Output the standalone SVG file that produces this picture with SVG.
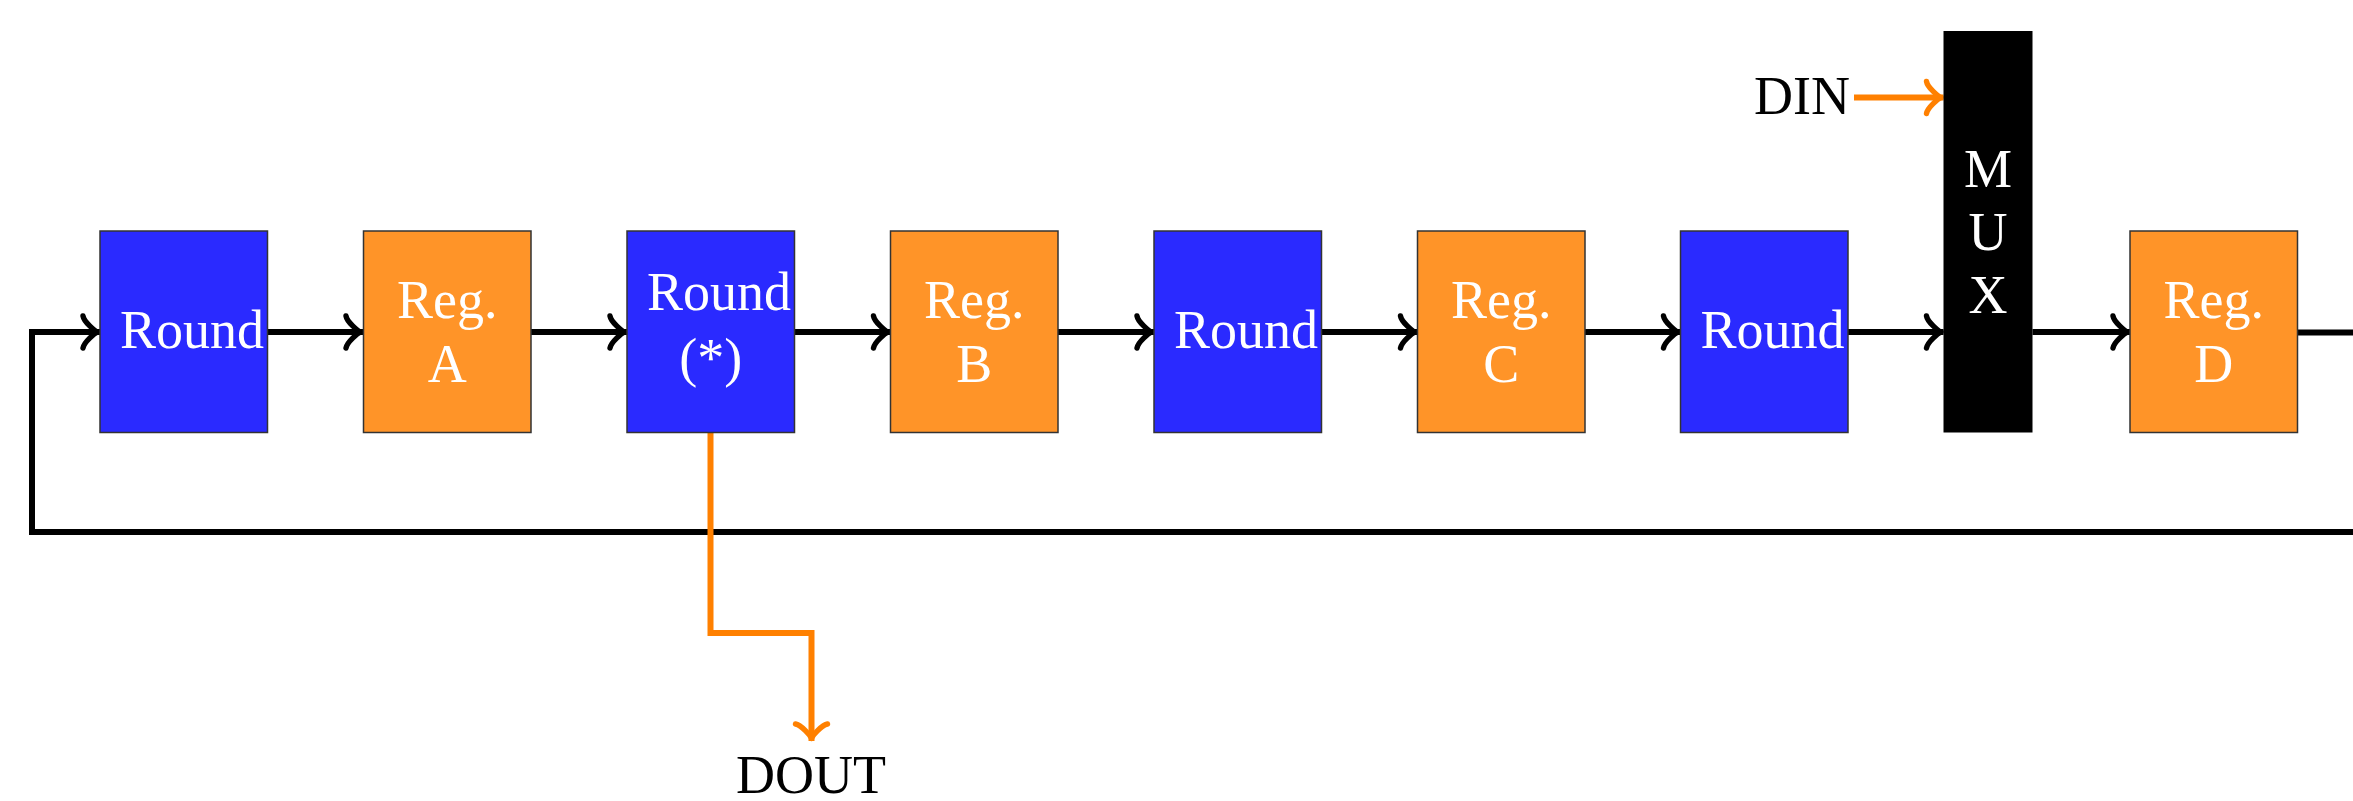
<svg xmlns="http://www.w3.org/2000/svg" width="2353" height="801" viewBox="0 0 2353 801">
  <style>
    .round { fill: #2A2AFF; stroke: #333333; stroke-width: 1.5; }
    .reg { fill: #FF9428; stroke: #333333; stroke-width: 1.5; }
    .mux { fill: #000000; }
    .lbl { font-family: "Liberation Serif", "Times New Roman", serif; font-size: 54px; fill: #FFFFFF; text-anchor: middle; }
    .ext { font-family: "Liberation Serif", "Times New Roman", serif; font-size: 54px; fill: #000000; }
    .wire { fill: none; stroke: #000000; stroke-width: 6; }
    .owire { fill: none; stroke: #FF8000; stroke-width: 6; }
    .headk { fill: none; stroke: #000000; stroke-width: 5.4; stroke-linecap: round; stroke-linejoin: round; }
    .heado { fill: none; stroke: #FF8000; stroke-width: 5.4; stroke-linecap: round; stroke-linejoin: round; }
  </style>
  <defs>
    <marker id="arrK" markerUnits="userSpaceOnUse" orient="auto" refX="0" refY="0" markerWidth="40" markerHeight="40" overflow="visible">
      <path class="headk" d="M -17,-16 C -16,-10 -5,-1 -2.5,0 C -5,1 -16,10 -17,16"/>
    </marker>
    <marker id="arrO" markerUnits="userSpaceOnUse" orient="auto" refX="0" refY="0" markerWidth="40" markerHeight="40" overflow="visible">
      <path class="heado" d="M -17,-16 C -16,-10 -5,-1 -2.5,0 C -5,1 -16,10 -17,16"/>
    </marker>
  </defs>
  <rect x="0" y="0" width="2353" height="801" fill="#FFFFFF"/>

  <g id="connectors">
    <path class="wire" d="M 267.5,332 H 363" marker-end="url(#arrK)"/>
    <path class="wire" d="M 531,332 H 627" marker-end="url(#arrK)"/>
    <path class="wire" d="M 794.5,332 H 890.5" marker-end="url(#arrK)"/>
    <path class="wire" d="M 1058,332 H 1154" marker-end="url(#arrK)"/>
    <path class="wire" d="M 1321.5,332 H 1417.5" marker-end="url(#arrK)"/>
    <path class="wire" d="M 1585,332 H 1680.5" marker-end="url(#arrK)"/>
    <path class="wire" d="M 1848,332 H 1943.5" marker-end="url(#arrK)"/>
    <path class="wire" d="M 2032.5,332 H 2130" marker-end="url(#arrK)"/>
    <path class="wire" d="M 2297.5,332.5 H 2370 V 532 H 32 V 332 H 100" marker-end="url(#arrK)"/>
    <path class="owire" d="M 1854,97.5 H 1943.5" marker-end="url(#arrO)"/>
    <path class="owire" d="M 710.5,432.5 V 633 H 811.5 V 741" marker-end="url(#arrO)"/>
  </g>

  <g id="round1">
    <rect class="round" x="100" y="231" width="167.5" height="201.5"/>
    <text class="lbl" x="192" y="347.5">Round</text>
  </g>
  <g id="regA">
    <rect class="reg" x="363.5" y="231" width="167.5" height="201.5"/>
    <text class="lbl" x="447.25" y="317.5">Reg.</text>
    <text class="lbl" x="447.25" y="381.5">A</text>
  </g>
  <g id="round2">
    <rect class="round" x="627" y="231" width="167.5" height="201.5"/>
    <text class="lbl" x="719" y="310">Round</text>
    <text class="lbl" x="710.75" y="376">(*)</text>
  </g>
  <g id="regB">
    <rect class="reg" x="890.5" y="231" width="167.5" height="201.5"/>
    <text class="lbl" x="974.25" y="317.5">Reg.</text>
    <text class="lbl" x="974.25" y="381.5">B</text>
  </g>
  <g id="round3">
    <rect class="round" x="1154" y="231" width="167.5" height="201.5"/>
    <text class="lbl" x="1246" y="347.5">Round</text>
  </g>
  <g id="regC">
    <rect class="reg" x="1417.5" y="231" width="167.5" height="201.5"/>
    <text class="lbl" x="1501.25" y="317.5">Reg.</text>
    <text class="lbl" x="1501.25" y="381.5">C</text>
  </g>
  <g id="round4">
    <rect class="round" x="1680.5" y="231" width="167.5" height="201.5"/>
    <text class="lbl" x="1772.5" y="347.5">Round</text>
  </g>
  <g id="mux">
    <rect class="mux" x="1943.5" y="31" width="89" height="401.5"/>
    <text class="lbl" x="1988" y="187">M</text>
    <text class="lbl" x="1988" y="250">U</text>
    <text class="lbl" x="1988" y="313">X</text>
  </g>
  <g id="regD">
    <rect class="reg" x="2130" y="231" width="167.5" height="201.5"/>
    <text class="lbl" x="2213.75" y="317.5">Reg.</text>
    <text class="lbl" x="2213.75" y="381.5">D</text>
  </g>
  <g id="din">
    <text class="ext" x="1850" y="114" text-anchor="end">DIN</text>
  </g>
  <g id="dout">
    <text class="ext" x="811" y="793" text-anchor="middle">DOUT</text>
  </g>
</svg>
